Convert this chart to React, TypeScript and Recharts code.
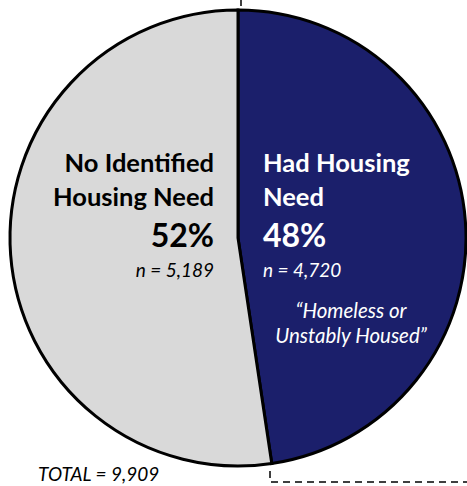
import { PieChart, Pie, Cell } from "recharts";

const categories = ["Had Housing Need", "No Identified Housing Need"];
const titleLines = [
  ["Had Housing", "Need"],
  ["No Identified", "Housing Need"],
];
const counts = [4720, 5189];
const percentLabels = ["48%", "52%"];
const countLabels = ["n = 4,720", "n = 5,189"];
const noteLines = ["\u201CHomeless or", "Unstably Housed\u201D"];
const totalLabel = "TOTAL = 9,909";
const colors = ["#1B1F6B", "#D9D9D9"];

const FONT = "Lato, 'Open Sans', sans-serif";

const data = categories.map((name, i) => ({ name, value: counts[i] }));

function SliceLabel(props: any) {
  const { cx, cy, index } = props;
  const dark = index === 0;
  const x = dark ? cx + 25 : cx - 24;
  const anchor = dark ? "start" : "end";
  const fill = dark ? "#ffffff" : "#000000";
  const lines = titleLines[index];
  return (
    <g fontFamily={FONT} fill={fill}>
      <text x={x} y={cy - 66} textAnchor={anchor} fontSize={25.5} fontWeight={700}>
        {lines[0]}
      </text>
      <text x={x} y={cy - 32} textAnchor={anchor} fontSize={25.5} fontWeight={700}>
        {lines[1]}
      </text>
      <text x={x} y={cy + 9} textAnchor={anchor} fontSize={32} fontWeight={700}>
        {percentLabels[index]}
      </text>
      <text x={x} y={cy + 39} textAnchor={anchor} fontSize={19} fontStyle="italic">
        {countLabels[index]}
      </text>
      {dark && (
        <>
          <text x={cx + 113} y={cy + 80} textAnchor="middle" fontSize={20.5} fontStyle="italic">
            {noteLines[0]}
          </text>
          <text x={cx + 113} y={cy + 105} textAnchor="middle" fontSize={20.5} fontStyle="italic">
            {noteLines[1]}
          </text>
        </>
      )}
    </g>
  );
}

export default function App() {
  return (
    <div style={{ position: "fixed", left: 0, top: 0, width: 467, height: 486, background: "#fff" }}>
      <PieChart width={467} height={486} margin={{ top: 0, right: 0, bottom: 0, left: 0 }}>
        <Pie
          data={data}
          dataKey="value"
          nameKey="name"
          cx={238}
          cy={238}
          outerRadius={228}
          startAngle={90}
          endAngle={-270}
          stroke="#000"
          strokeWidth={3}
          label={SliceLabel}
          labelLine={false}
          isAnimationActive={false}
        >
          {data.map((d, i) => (
            <Cell key={d.name} fill={colors[i]} />
          ))}
        </Pie>
      </PieChart>
      <svg width={467} height={486} style={{ position: "absolute", left: 0, top: 0, pointerEvents: "none" }}>
        <line x1={241} y1={0} x2={241} y2={6} stroke="#000" strokeWidth={1.5} />
        <polyline
          points="270,471 270,482 467,482"
          fill="none"
          stroke="#000"
          strokeWidth={1.5}
          strokeDasharray="7 5"
        />
        <text x={38} y={481} fontFamily={FONT} fontSize={19} fontStyle="italic" fill="#000">
          {totalLabel}
        </text>
      </svg>
    </div>
  );
}
